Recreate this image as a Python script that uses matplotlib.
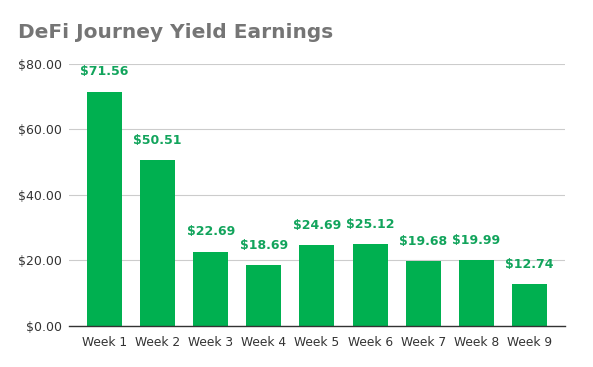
import matplotlib
matplotlib.use("Agg")
import matplotlib.pyplot as plt

categories = ["Week 1", "Week 2", "Week 3", "Week 4", "Week 5", "Week 6", "Week 7", "Week 8", "Week 9"]
values = [71.56, 50.51, 22.69, 18.69, 24.69, 25.12, 19.68, 19.99, 12.74]
yticks = [0, 20, 40, 60, 80]

plt.rcParams['font.family'] = ['DejaVu Sans']
fig = plt.figure(figsize=(5.93, 3.67), dpi=100)
ax = fig.add_axes([0.116, 0.112, 0.837, 0.714])

x = range(len(categories))
ax.bar(x, values, width=0.66, color="#00b050", zorder=3)
for xi, v in zip(x, values):
    ax.text(xi, v + 4, f"${v:.2f}", ha="center", va="bottom", fontsize=9,
            fontweight="bold", color="#12a45c", zorder=4)

ax.set_xlim(-0.67, 8.67)
ax.set_ylim(0, 80)
ax.set_yticks(yticks)
ax.set_yticklabels([f"${t:.2f}" for t in yticks], fontsize=9, color="#333333")
ax.set_xticks(list(x))
ax.set_xticklabels(categories, fontsize=8.8, color="#333333")
ax.tick_params(axis="y", length=0, pad=5)
ax.tick_params(axis="x", length=0, pad=7)
ax.grid(axis="y", color="#cccccc", linewidth=0.8, zorder=0)
for s in ["top", "right", "left"]:
    ax.spines[s].set_visible(False)
ax.spines["bottom"].set_color("#333333")
ax.spines["bottom"].set_linewidth(1)
ax.spines["bottom"].set_zorder(5)

fig.text(0.03, 0.885, "DeFi Journey Yield Earnings", fontsize=14.5, fontweight="bold",
         color="#757575", ha="left", va="bottom")

fig.savefig("out.png", dpi=100, facecolor="white")
